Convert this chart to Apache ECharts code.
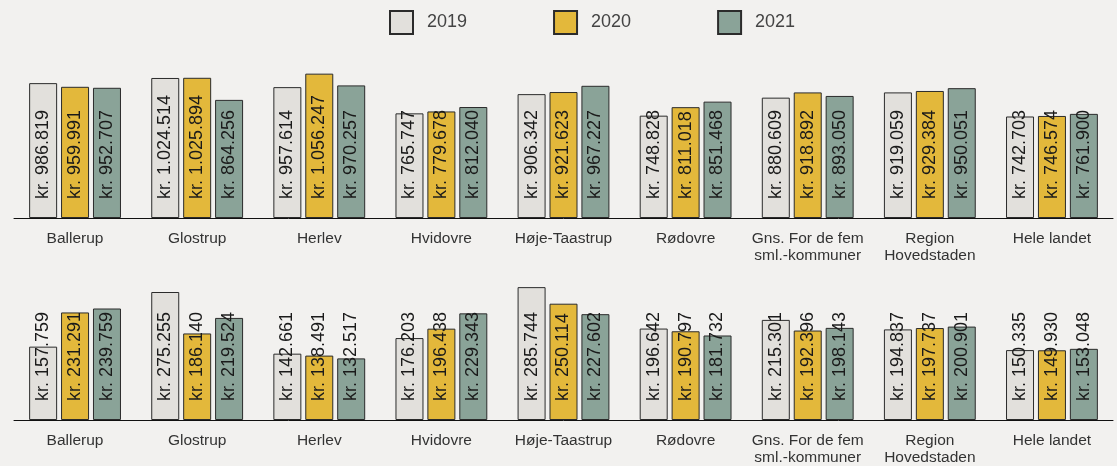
<!DOCTYPE html>
<html>
<head>
<meta charset="utf-8">
<script src="https://cdn.jsdelivr.net/npm/echarts@6/dist/echarts.min.js"></script>
<style>
  html, body { margin: 0; padding: 0; background: #f2f1ef; }
  #chart { width: 1117px; height: 466px; }
</style>
</head>
<body>
<div id="chart"></div>
<script>
var categories = ['Ballerup', 'Glostrup', 'Herlev', 'Hvidovre', 'Høje-Taastrup', 'Rødovre',
  'Gns. For de fem\nsml.-kommuner', 'Region\nHovedstaden', 'Hele landet']
var years = ['2019', '2020', '2021']
var colors = ['#e2e0dc', '#e3b83b', '#8aa398']

// upper panel
var top2019 = [986819, 1024514, 957614, 765747, 906342, 748828, 880609, 919059, 742703]
var top2020 = [959991, 1025894, 1056247, 779678, 921623, 811018, 918892, 929384, 746574]
var top2021 = [952707, 864256, 970257, 812040, 967227, 851468, 893050, 950051, 761900]

// lower panel
var low2019 = [157759, 275255, 142661, 176203, 285744, 196642, 215301, 194837, 150335]
var low2020 = [231291, 186140, 138491, 196438, 250114, 190797, 192396, 197737, 149930]
var low2021 = [239759, 219524, 132517, 229343, 227602, 181732, 198143, 200901, 153048]

var fontFamily = '"Liberation Sans", Arial, sans-serif'

function kr(v) {
  return 'kr. ' + String(v).replace(/\B(?=(\d{3})+(?!\d))/g, '.')
}

function makeSeries(name, data, idx, color) {
  return {
    name: name,
    type: 'bar',
    xAxisIndex: idx,
    yAxisIndex: idx,
    data: data,
    barWidth: 28,
    barGap: '14%',
    itemStyle: { color: color, borderColor: '#2b2b2b', borderWidth: 1 },
    label: {
      show: true,
      position: 'insideBottom',
      distance: 19,
      rotate: 90,
      align: 'left',
      verticalAlign: 'middle',
      fontSize: 18,
      fontFamily: fontFamily,
      color: '#1a1a1a',
      formatter: function(p) { return kr(p.value) }
    },
    emphasis: { disabled: true }
  }
}

function xAxis(idx) {
  return {
    type: 'category',
    gridIndex: idx,
    data: categories,
    axisTick: { show: false },
    axisLine: { lineStyle: { color: '#111', width: 1 } },
    axisLabel: {
      interval: 0,
      margin: 12,
      fontSize: 15.5,
      lineHeight: 17,
      fontFamily: fontFamily,
      color: '#333'
    }
  }
}

function yAxis(idx, max) {
  return {
    type: 'value',
    gridIndex: idx,
    min: 0,
    max: max,
    show: false,
    splitLine: { show: false }
  }
}

var chart = echarts.init(document.getElementById('chart'))
chart.setOption({
  backgroundColor: '#f2f1ef',
  animation: false,
  legend: {
    left: 384,
    top: 5,
    icon: 'rect',
    itemWidth: 23,
    itemHeight: 23,
    itemGap: 86,
    data: years,
    textStyle: { fontSize: 18, fontFamily: fontFamily, color: '#444', padding: [0, 0, 0, 9] }
  },
  grid: [
    { left: 14, right: 4, top: 54, bottom: 248 },
    { left: 14, right: 4, top: 280.5, bottom: 45 }
  ],
  xAxis: [xAxis(0), xAxis(1)],
  yAxis: [yAxis(0, 1200000), yAxis(1, 300000)],
  series: [
    makeSeries(years[0], top2019, 0, colors[0]),
    makeSeries(years[1], top2020, 0, colors[1]),
    makeSeries(years[2], top2021, 0, colors[2]),
    makeSeries(years[0], low2019, 1, colors[0]),
    makeSeries(years[1], low2020, 1, colors[1]),
    makeSeries(years[2], low2021, 1, colors[2])
  ]
})
</script>
</body>
</html>
